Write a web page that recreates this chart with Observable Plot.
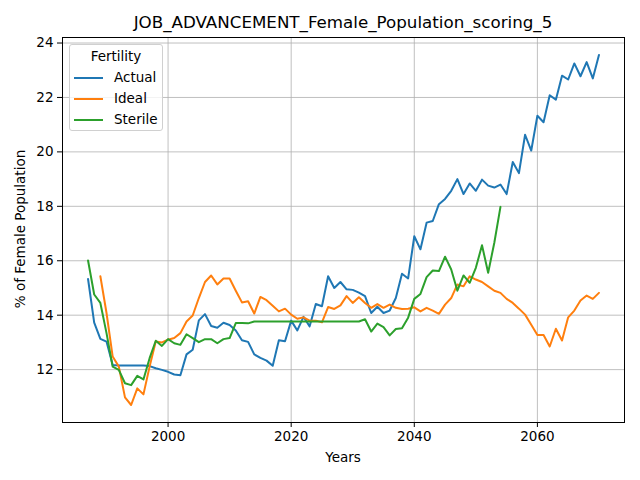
<!DOCTYPE html>
<html>
<head>
<meta charset="utf-8">
<script src="https://cdn.jsdelivr.net/npm/d3@7"></script>
<script src="https://cdn.jsdelivr.net/npm/@observablehq/plot@0.6"></script>
<style>
  body { margin: 0; background: #fff; }
  #fig { position: relative; width: 640px; height: 480px; font-family: "DejaVu Sans", sans-serif; }
  #fig svg { position: absolute; left: 0; top: 0; }
  .lbl { position: absolute; color: #000; white-space: nowrap; }
  #title { left: 343px; top: 22px; transform: translate(-50%, -50%); font-size: 16.7px; }
  #xlabel { left: 343px; top: 457px; transform: translate(-50%, -50%); font-size: 13.5px; }
  #ylabel { left: 20px; top: 229px; transform: translate(-50%, -50%) rotate(-90deg); font-size: 13.5px; }
  #legend { position: absolute; left: 69px; top: 44px; width: 94px; height: 87px;
            border: 1px solid #d0d0d0; border-radius: 3px; background: rgba(255,255,255,0.8);
            font-size: 13.5px; box-sizing: border-box; }
  #legend .ttl { position: absolute; left: 0; width: 100%; top: 3px; text-align: center; }
  #legend .row { position: absolute; left: 4px; height: 16px; }
  #legend .sw { position: absolute; left: 0; top: 7px; width: 29px; height: 2px; }
  #legend .tx { position: absolute; left: 40px; top: -1px; }
</style>
</head>
<body>
<div id="fig">
  <div id="plot-region"></div>
  <div id="title" class="lbl">JOB_ADVANCEMENT_Female_Population_scoring_5</div>
  <div id="xlabel" class="lbl">Years</div>
  <div id="ylabel" class="lbl">% of Female Population</div>
  <div id="legend"></div>
</div>
<script>
const years = [
  1987, 1988, 1989, 1990, 1991, 1992, 1993, 1994, 1995, 1996,
  1997, 1998, 1999, 2000, 2001, 2002, 2003, 2004, 2005, 2006,
  2007, 2008, 2009, 2010, 2011, 2012, 2013, 2014, 2015, 2016,
  2017, 2018, 2019, 2020, 2021, 2022, 2023, 2024, 2025, 2026,
  2027, 2028, 2029, 2030, 2031, 2032, 2033, 2034, 2035, 2036,
  2037, 2038, 2039, 2040, 2041, 2042, 2043, 2044, 2045, 2046,
  2047, 2048, 2049, 2050, 2051, 2052, 2053, 2054, 2055, 2056,
  2057, 2058, 2059, 2060, 2061, 2062, 2063, 2064, 2065, 2066,
  2067, 2068, 2069, 2070
];

const actual = [
  15.33, 13.73, 13.13, 13.03, 12.17, 12.15, 12.15, 12.15, 12.15, 12.15,
  12.13, 12.05, 11.99, 11.92, 11.82, 11.79, 12.56, 12.73, 13.81, 14.04,
  13.60, 13.54, 13.72, 13.64, 13.44, 13.08, 13.02, 12.56, 12.43, 12.33,
  12.14, 13.08, 13.04, 13.80, 13.44, 13.94, 13.59, 14.41, 14.33, 15.43,
  15.00, 15.22, 14.95, 14.93, 14.83, 14.70, 14.08, 14.31, 14.08, 14.17,
  14.63, 15.52, 15.35, 16.90, 16.42, 17.40, 17.46, 18.08, 18.27, 18.57,
  19.00, 18.45, 18.84, 18.57, 18.98, 18.76, 18.69, 18.80, 18.45, 19.63,
  19.22, 20.63, 20.05, 21.33, 21.09, 22.08, 21.92, 22.80, 22.66, 23.25,
  22.78, 23.30, 22.70, 23.56
];

const ideal = [
  null, null, 15.43, 14.08, 12.48, 12.11, 10.98, 10.70, 11.31, 11.09,
  12.11, 13.03, 13.00, 13.10, 13.16, 13.34, 13.77, 13.99, 14.63, 15.22,
  15.46, 15.13, 15.35, 15.35, 14.90, 14.47, 14.51, 14.06, 14.67, 14.55,
  14.35, 14.14, 14.24, 14.02, 13.87, 13.92, 13.80, 13.80, 13.74, 14.30,
  14.23, 14.36, 14.70, 14.45, 14.66, 14.45, 14.27, 14.41, 14.27, 14.39,
  14.27, 14.23, 14.24, 14.29, 14.14, 14.27, 14.17, 14.05, 14.39, 14.63,
  15.13, 15.06, 15.43, 15.31, 15.22, 15.06, 14.90, 14.82, 14.60, 14.45,
  14.24, 14.02, 13.65, 13.27, 13.27, 12.85, 13.50, 13.07, 13.92, 14.17,
  14.54, 14.72, 14.60, 14.82
];

const sterile = [
  16.01, 14.76, 14.45, 13.34, 12.11, 11.99, 11.50, 11.43, 11.77, 11.64,
  12.42, 13.06, 12.87, 13.12, 12.97, 12.91, 13.30, 13.16, 13.01, 13.12,
  13.12, 12.97, 13.12, 13.16, 13.71, 13.71, 13.70, 13.77, 13.77, 13.77,
  13.77, 13.77, 13.77, 13.77, 13.77, 13.77, 13.77, 13.77, 13.77, 13.77,
  13.77, 13.77, 13.77, 13.77, 13.77, 13.85, 13.40, 13.69, 13.56, 13.26,
  13.49, 13.52, 13.91, 14.60, 14.78, 15.40, 15.64, 15.62, 16.15, 15.68,
  14.90, 15.46, 15.19, 15.74, 16.57, 15.56, 16.66, 17.98, null, null,
  null, null, null, null, null, null, null, null, null, null,
  null, null, null, null
];

const seriesNames = ["Actual", "Ideal", "Sterile"];
const seriesColors = ["#1f77b4", "#ff7f0e", "#2ca02c"];
const xTicks = [2000, 2020, 2040, 2060];
const yTicks = [12, 14, 16, 18, 20, 22, 24];

function toRows(values) {
  let rows = [];
  for (let i = 0; i < years.length; i++) {
    if (values[i] != null) rows.push({ Year: years[i], Value: values[i] });
  }
  return rows;
}

function plotChart() {
  let allSeries = [actual, ideal, sterile];
  let allValues = allSeries.flat().filter(v => v != null);

  // matplotlib-like 5% margins around the data
  let xmin = d3.min(years), xmax = d3.max(years);
  let ymin = d3.min(allValues), ymax = d3.max(allValues);
  let xpad = 0.05 * (xmax - xmin), ypad = 0.05 * (ymax - ymin);

  let linemarks = allSeries.map((vals, i) =>
    Plot.line(toRows(vals), { x: "Year", y: "Value", stroke: seriesColors[i], strokeWidth: 2, strokeLinejoin: "round" })
  );

  let chart = Plot.plot({
    width: 640,
    height: 480,
    marginLeft: 62,
    marginRight: 16,
    marginTop: 37,
    marginBottom: 58,
    style: { fontFamily: "DejaVu Sans", fontSize: "13.5px", color: "#000", background: "transparent" },
    x: { domain: [xmin - xpad, xmax + xpad] },
    y: { domain: [ymin - ypad, ymax + ypad] },
    marks: [
      Plot.gridX(xTicks, { stroke: "#b0b0b0", strokeOpacity: 1, strokeWidth: 0.8 }),
      Plot.gridY(yTicks, { stroke: "#b0b0b0", strokeOpacity: 1, strokeWidth: 0.8 }),
      ...linemarks,
      Plot.axisX(xTicks, { tickSize: 5, tickPadding: 4, tickFormat: d => String(d), label: null }),
      Plot.axisY(yTicks, { tickSize: 5, tickPadding: 4, label: null }),
      Plot.frame({ stroke: "#000", strokeWidth: 1 })
    ]
  });

  let plot = document.getElementById("plot-region");
  plot.innerHTML = "";
  plot.append(chart);

  // legend box, top left inside the axes
  let legend = document.getElementById("legend");
  legend.innerHTML = '<div class="ttl">Fertility</div>';
  seriesNames.forEach((name, i) => {
    let row = document.createElement("div");
    row.className = "row";
    row.style.top = (25 + i * 20.8) + "px";
    row.innerHTML = `<div class="sw" style="background:${seriesColors[i]}"></div><div class="tx">${name}</div>`;
    legend.append(row);
  });
}

plotChart();
</script>
</body>
</html>
